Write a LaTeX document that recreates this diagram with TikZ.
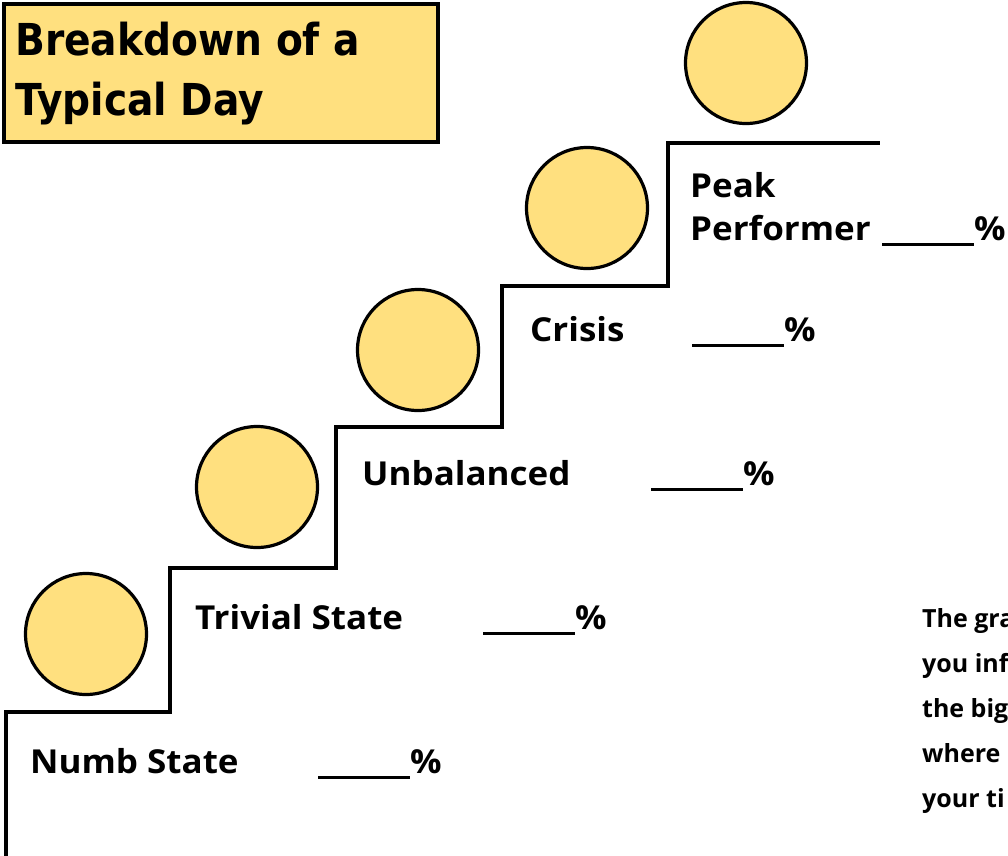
\documentclass[tikz,border=0pt]{standalone}
\usepackage{fontspec}
\newfontfamily\labfont{Open Sans}[FakeStretch=1.06]
\newfontfamily\notefont{Open Sans}
\newfontfamily\titlefont{DejaVu Sans}[FakeStretch=0.89]
\definecolor{gold}{HTML}{FFE07F}
\tikzset{
  coin/.style={circle, draw=black, line width=3.2pt, fill=gold, minimum size=121pt, inner sep=0pt},
  lab/.style={anchor=base west, inner sep=0pt, font=\labfont\bfseries\fontsize{33}{36}\selectfont},
  note/.style={anchor=base west, inner sep=0pt, font=\notefont\bfseries\fontsize{25}{28}\selectfont},
  ttl/.style={anchor=base west, inner sep=0pt, font=\titlefont\bfseries\fontsize{44}{50}\selectfont},
  stair/.style={line width=4pt, line cap=rect, line join=miter}
}
\newcommand{\blank}{\rule[-6pt]{92pt}{2.8pt}\%}
\begin{document}
\begin{tikzpicture}[x=1pt,y=-1pt]
\useasboundingbox (0,0) rectangle (1008,855);
\clip (0,0) rectangle (1008,855);
\fill[white] (0,0) rectangle (1008,855);
% title
\node[draw=black, line width=4pt, fill=gold, minimum width=434pt, minimum height=138pt, anchor=north west, inner sep=0pt] (tbox) at (2,2) {};
\node[ttl] (title1) at (15,55) {Breakdown of a};
\node[ttl] (title2) at (15,115) {Typical Day};
% stairs
\draw[stair] (6,860) -- (6,712) -- (170,712) -- (170,568) -- (336,568) -- (336,427) -- (502,427) -- (502,286) -- (668,286) -- (668,143) -- (878,143);
% coins
\node[coin] (c1) at (86,634) {};
\node[coin] (c2) at (257,487) {};
\node[coin] (c3) at (418,350) {};
\node[coin] (c4) at (587,208) {};
\node[coin] (c5) at (746,63) {};
% labels
\node[lab] (l1) at (30,773) {Numb State};
\node[lab] (p1) at (318,773) {\blank};
\node[lab] (l2) at (195,629) {Trivial State};
\node[lab] (p2) at (483,629) {\blank};
\node[lab] (l3) at (362,485) {Unbalanced};
\node[lab] (p3) at (651,485) {\blank};
\node[lab] (l4) at (530,341) {Crisis};
\node[lab] (p4) at (692,341) {\blank};
\node[lab] (l5a) at (690,197) {Peak};
\node[lab] (l5) at (690,240) {Performer};
\node[lab] (p5) at (882,240) {\blank};
% note
\node[note] (n1) at (922,627) {The gra};
\node[note] (n2) at (922,672) {you inf};
\node[note] (n3) at (922,717) {the big};
\node[note] (n4) at (922,762) {where};
\node[note] (n5) at (922,807) {your ti};
\end{tikzpicture}
\end{document}
